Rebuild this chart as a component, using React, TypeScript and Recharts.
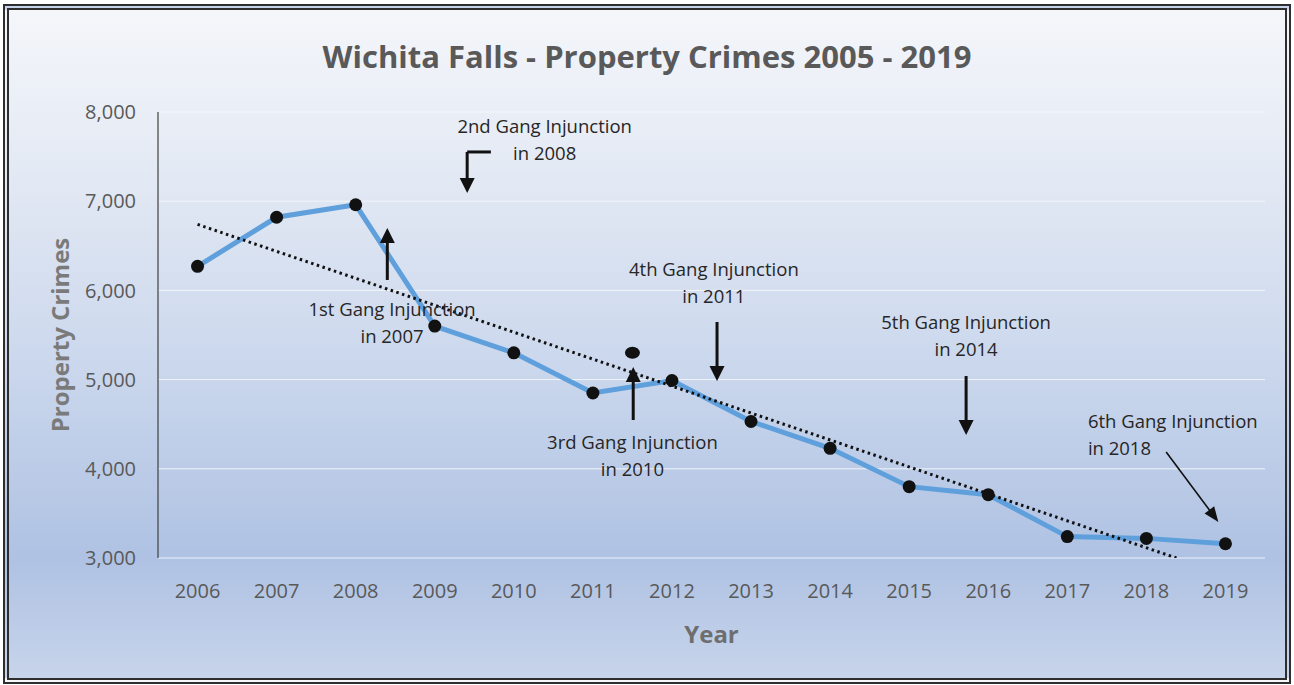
import React from "react"
import {
  LineChart,
  Line,
  XAxis,
  YAxis,
  CartesianGrid,
  ReferenceDot,
  ReferenceLine,
} from "recharts"

// values
const years = [2006, 2007, 2008, 2009, 2010, 2011, 2012, 2013, 2014, 2015, 2016, 2017, 2018, 2019]
const propertyCrimes = [6270, 6820, 6960, 5600, 5300, 4850, 4990, 4530, 4230, 3800, 3710, 3240, 3220, 3160]
const yTicks = [3000, 4000, 5000, 6000, 7000, 8000]

// dotted linear trend, endpoints as drawn
const trendYears = [2006, 2018.38]
const trendValues = [6740, 3000]

// the lone marker sitting next to the 2010 arrow
const strayYear = 2011.5
const strayValue = 5300

type Note = { id: string; year: number; value: number; lines: string[]; anchor: "middle" | "start" }
const injunctionNotes: Note[] = [
  { id: "n1", year: 2008.46, value: 5780, lines: ["1st Gang Injunction", "in 2007"], anchor: "middle" },
  { id: "n2", year: 2010.39, value: 7832, lines: ["2nd Gang Injunction", "in 2008"], anchor: "middle" },
  { id: "n3", year: 2011.5, value: 4289, lines: ["3rd Gang Injunction", "in 2010"], anchor: "middle" },
  { id: "n4", year: 2012.53, value: 6229, lines: ["4th Gang Injunction", "in 2011"], anchor: "middle" },
  { id: "n5", year: 2015.72, value: 5634, lines: ["5th Gang Injunction", "in 2014"], anchor: "middle" },
  { id: "n6", year: 2017.26, value: 4525, lines: ["6th Gang Injunction", "in 2018"], anchor: "start" },
]

type Arrow = { id: string; from: [number, number]; to: [number, number]; head: boolean; thin?: boolean }
const injunctionArrows: Arrow[] = [
  { id: "a1", from: [2008.4, 6117], to: [2008.4, 6700], head: true },
  { id: "a2h", from: [2009.71, 7552], to: [2009.41, 7552], head: false },
  { id: "a2", from: [2009.41, 7552], to: [2009.41, 7092], head: true },
  { id: "a3", from: [2011.51, 4547], to: [2011.51, 5141], head: true },
  { id: "a4", from: [2012.57, 5646], to: [2012.57, 4984], head: true },
  { id: "a5", from: [2015.72, 5040], to: [2015.72, 4379], head: true },
  { id: "a6", from: [2018.25, 4188], to: [2018.91, 3404], head: true, thin: true },
]

const lineData = years.map((year, i) => ({ year, crimes: propertyCrimes[i] }))
const trendData = trendYears.map((year, i) => ({ year, trend: trendValues[i] }))

const FONT = "'Open Sans', 'DejaVu Sans', sans-serif"

function ArrowShape(props: any) {
  const { x1, y1, x2, y2, head, thin } = props
  const dx = x2 - x1
  const dy = y2 - y1
  const len = Math.sqrt(dx * dx + dy * dy) || 1
  const ux = dx / len
  const uy = dy / len
  const hl = head ? 15 : 0
  const hw = thin ? 6 : 7.5
  const bx = x2 - ux * hl
  const by = y2 - uy * hl
  return (
    <g>
      <line
        x1={x1}
        y1={y1}
        x2={head ? bx + ux : x2}
        y2={head ? by + uy : y2}
        stroke="#111"
        strokeWidth={thin ? 1.6 : 3}
      />
      {head && (
        <polygon
          points={`${x2},${y2} ${bx - uy * hw},${by + ux * hw} ${bx + uy * hw},${by - ux * hw}`}
          fill="#111"
        />
      )}
    </g>
  )
}

function NoteShape(props: any) {
  const { cx, cy, lines, anchor } = props
  return (
    <text x={cx} y={cy + 6} textAnchor={anchor} fontFamily={FONT} fontSize={18.5} fill="#262626">
      {lines.map((t: string, i: number) => (
        <tspan key={t} x={cx} dy={i === 0 ? 0 : 27}>
          {t}
        </tspan>
      ))}
    </text>
  )
}

export default function App() {
  return (
    <div style={{ position: "absolute", left: 0, top: 0, width: 1294, height: 685, background: "#fff" }}>
      <div
        style={{
          position: "absolute",
          left: 3,
          top: 4,
          width: 1288,
          height: 680,
          boxSizing: "border-box",
          border: "6px double #2e2e2e",
          background:
            "linear-gradient(180deg, #f4f6fa 0%, #e3e9f4 25%, #c9d6ec 55%, #afc2e3 82%, #c7d4eb 100%)",
        }}
      />
      <div
        style={{
          position: "absolute",
          left: 0,
          top: 34,
          width: 1294,
          textAlign: "center",
          fontFamily: FONT,
          fontWeight: 700,
          fontSize: 31,
          lineHeight: "44px",
          color: "#595959",
        }}
      >
        Wichita Falls - Property Crimes 2005 - 2019
      </div>
      <div style={{ position: "absolute", left: 0, top: 0 }}>
        <LineChart width={1294} height={685} margin={{ top: 112, right: 29, bottom: 47, left: 98 }}>
          <CartesianGrid horizontal vertical={false} stroke="#f4f7fc" strokeOpacity={0.9} />
          <XAxis
            dataKey="year"
            type="number"
            domain={[2005.5, 2019.5]}
            allowDataOverflow
            ticks={years}
            axisLine={false}
            tickLine={false}
            tickMargin={20}
            height={80}
            tick={{ fill: "#595959", fontSize: 20, fontFamily: FONT }}
            label={{
              value: "Year",
              position: "insideBottom",
              offset: -5,
              style: { fill: "#6e6e6e", fontSize: 24, fontWeight: 700, fontFamily: FONT },
            }}
          />
          <YAxis
            domain={[3000, 8000]}
            ticks={yTicks}
            allowDataOverflow
            width={60}
            axisLine={{ stroke: "#404040", strokeWidth: 1.2 }}
            tickLine={false}
            tickMargin={16}
            tickFormatter={(v: number) => v.toLocaleString("en-US")}
            tick={{ fill: "#595959", fontSize: 20, fontFamily: FONT }}
            label={{
              value: "Property Crimes",
              angle: -90,
              position: "insideLeft",
              offset: -38,
              textAnchor: "middle",
              style: { fill: "#7a7a7a", fontSize: 24, fontWeight: 700, fontFamily: FONT, textAnchor: "middle" },
            }}
          />
          <Line
            data={lineData}
            dataKey="crimes"
            stroke="#5fa0dc"
            strokeWidth={5}
            dot={{ r: 6.5, fill: "#111", stroke: "#111", strokeWidth: 0 }}
            activeDot={false}
            isAnimationActive={false}
          />
          <Line
            data={trendData}
            dataKey="trend"
            stroke="#111"
            strokeWidth={3}
            strokeDasharray="2.5 3.5"
            dot={false}
            activeDot={false}
            isAnimationActive={false}
          />
          <ReferenceDot
            x={strayYear}
            y={strayValue}
            r={6}
            shape={(p: any) => <ellipse cx={p.cx} cy={p.cy} rx={7.5} ry={6} fill="#111" />}
          />
          {injunctionArrows.map((a) => (
            <ReferenceLine
              key={a.id}
              segment={[
                { x: a.from[0], y: a.from[1] },
                { x: a.to[0], y: a.to[1] },
              ]}
              shape={(p: any) => <ArrowShape {...p} head={a.head} thin={a.thin} />}
            />
          ))}
          {injunctionNotes.map((n) => (
            <ReferenceDot
              key={n.id}
              x={n.year}
              y={n.value}
              r={0}
              shape={(p: any) => <NoteShape {...p} lines={n.lines} anchor={n.anchor} />}
            />
          ))}
        </LineChart>
      </div>
    </div>
  )
}
